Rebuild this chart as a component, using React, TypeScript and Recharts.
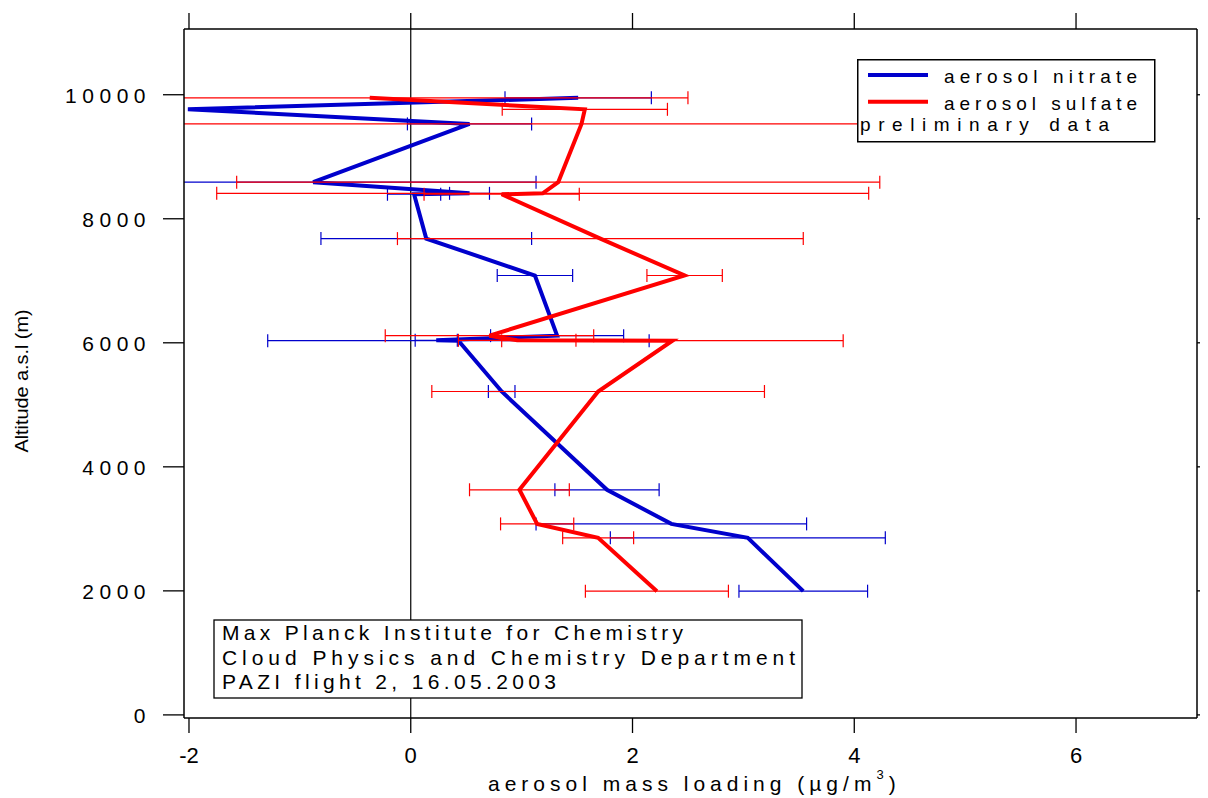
import React from "react";
import { LineChart, Line, XAxis, YAxis, ErrorBar, ReferenceLine, Legend } from "recharts";

// flight altitudes (m a.s.l.) shared by both species
const altitude = [9950, 9765, 9530, 8590, 8410, 8395, 7680, 7085, 6115, 6040, 6035, 5215, 3630, 3080, 2855, 1995];
const nitrate = [1.51, -2.01, 0.53, -0.88, 0.53, 0.03, 0.14, 1.12, 1.32, 0.23, 0.43, 0.82, 1.77, 2.35, 3.04, 3.54];
const nitrateErr = [0.66, null, 0.56, 2.01, 0.18, 0.24, 0.95, 0.34, 0.6, 0.19, 1.72, 0.12, 0.47, 1.22, 1.24, 0.58];
const sulfate = [-0.37, 1.57, 1.54, 1.33, 1.19, 0.82, 1.71, 2.47, 0.71, 0.96, 2.36, 1.69, 0.98, 1.14, 1.69, 2.22];
const sulfateErr = [2.87, 0.745, 4.5, 2.9, 2.94, 0.7, 1.83, 0.34, 0.94, 0.53, 1.54, 1.5, 0.45, 0.33, 0.32, 0.645];

const xTicks = [-2, 0, 2, 4, 6];
const yTicks = [0, 2000, 4000, 6000, 8000, 10000];
const infoLines = [
  "Max Planck Institute for Chemistry",
  "Cloud Physics and Chemistry Department",
  "PAZI flight 2, 16.05.2003",
];
const infoWidths = [461, 573, 334];

const data = altitude.map((alt, i) => ({
  alt,
  nitrate: nitrate[i],
  nErr: nitrateErr[i],
  sulfate: sulfate[i],
  sErr: sulfateErr[i],
}));

const FONT = '"Liberation Sans", Arial, sans-serif';
const BLUE = "#0000cc";
const RED = "#ff0000";
const X_DOMAIN: [number, number] = [-2.045, 7.091];
const Y_DOMAIN: [number, number] = [-50, 11060];

// plot frame (svg coords)
const LEFT = 176;
const RIGHT = 1189;
const TOP = 21;
const BOTTOM = 710;

const YTick = ({ y, payload }: any) => (
  <g>
    <line x1={LEFT - 21} x2={LEFT} y1={y} y2={y} stroke="#000" strokeWidth={1.3} />
    <text x={143} y={y + 8} textAnchor="end" fontFamily={FONT} fontSize={21} letterSpacing={5.5} fill="#000">
      {payload.value}
    </text>
  </g>
);

const RightTick = ({ y }: any) => <line x1={RIGHT} x2={RIGHT + 11} y1={y} y2={y} stroke="#000" strokeWidth={1.3} />;

const XTick = ({ x, payload }: any) => (
  <g>
    <line x1={x} x2={x} y1={BOTTOM} y2={BOTTOM + 15} stroke="#000" strokeWidth={1.3} />
    <text x={x} y={755} textAnchor="middle" fontFamily={FONT} fontSize={22} fill="#000">
      {payload.value}
    </text>
  </g>
);

const TopTick = ({ x }: any) => <line x1={x} x2={x} y1={TOP - 16} y2={TOP} stroke="#000" strokeWidth={1.3} />;

const XTitle = () => (
  <text x={480} y={783} fontFamily={FONT} fontSize={21} letterSpacing={5} fill="#000">
    aerosol mass loading (µg/m
    <tspan fontSize={13} dy={-12}>3</tspan>
    <tspan dy={12}>)</tspan>
  </text>
);

const YTitle = () => (
  <text
    transform="translate(20,373) rotate(-90)"
    textAnchor="middle"
    fontFamily={FONT}
    fontSize={19}
    textLength={143}
    lengthAdjust="spacingAndGlyphs"
    fill="#000"
  >
    Altitude a.s.l (m)
  </text>
);

const LegendBox = ({ payload }: any) => (
  <svg width={300} height={85} style={{ display: "block" }}>
    <rect x={0.75} y={0.75} width={297} height={82} fill="#fff" stroke="#000" strokeWidth={1.5} />
    {(payload || []).map((p: any, i: number) => (
      <g key={p.value}>
        <line x1={11} x2={71} y1={16 + i * 26.7} y2={16 + i * 26.7} stroke={p.color} strokeWidth={4} />
        <text x={87} y={24 + i * 27} fontFamily={FONT} fontSize={19} textLength={193} lengthAdjust="spacing" fill="#000">
          {p.value}
        </text>
      </g>
    ))}
    <text x={3} y={72} fontFamily={FONT} fontSize={19} textLength={249} lengthAdjust="spacing" fill="#000">
      preliminary data
    </text>
  </svg>
);

export default function App() {
  return (
    <div style={{ position: "relative", width: 1200, height: 790 }}>
      <style>{`.recharts-errorBars, .recharts-errorBar { clip-path: url(#plot-clip); }`}</style>
      <svg width={0} height={0} style={{ position: "absolute" }}>
        <defs>
          <clipPath id="plot-clip" clipPathUnits="userSpaceOnUse">
            <rect x={LEFT} y={TOP} width={RIGHT - LEFT} height={BOTTOM - TOP} />
          </clipPath>
        </defs>
      </svg>
      <LineChart width={1200} height={790} data={data} layout="vertical" margin={{ top: 0, right: 0, bottom: 0, left: 0 }}>
        <XAxis
          xAxisId="b"
          type="number"
          orientation="bottom"
          domain={X_DOMAIN}
          allowDataOverflow
          ticks={xTicks}
          interval={0}
          height={80}
          tickLine={false}
          tick={<XTick />}
          axisLine={{ stroke: "#000", strokeWidth: 1.5 }}
          label={{ content: <XTitle /> }}
        />
        <XAxis
          xAxisId="t"
          type="number"
          orientation="top"
          domain={X_DOMAIN}
          allowDataOverflow
          ticks={xTicks}
          interval={0}
          height={21}
          tickLine={false}
          tick={<TopTick />}
          axisLine={{ stroke: "#000", strokeWidth: 1.5 }}
        />
        <YAxis
          yAxisId="l"
          dataKey="alt"
          type="number"
          orientation="left"
          reversed
          domain={Y_DOMAIN}
          allowDataOverflow
          ticks={yTicks}
          interval={0}
          width={176}
          tickLine={false}
          tick={<YTick />}
          axisLine={{ stroke: "#000", strokeWidth: 1.5 }}
          label={{ content: <YTitle /> }}
        />
        <YAxis
          yAxisId="r"
          dataKey="alt"
          type="number"
          orientation="right"
          reversed
          domain={Y_DOMAIN}
          allowDataOverflow
          ticks={yTicks}
          interval={0}
          width={11}
          tickLine={false}
          tick={<RightTick />}
          axisLine={{ stroke: "#000", strokeWidth: 1.5 }}
        />
        <ReferenceLine x={0} xAxisId="b" yAxisId="l" stroke="#000" strokeWidth={1.2} />
        <Line
          xAxisId="b"
          yAxisId="l"
          dataKey="nitrate"
          name="aerosol nitrate"
          stroke={BLUE}
          strokeWidth={4}
          dot={false}
          activeDot={false}
          isAnimationActive={false}
        >
          <ErrorBar dataKey="nErr" direction="x" stroke={BLUE} strokeWidth={1.2} width={6.5} isAnimationActive={false} />
        </Line>
        <Line
          xAxisId="b"
          yAxisId="l"
          dataKey="sulfate"
          name="aerosol sulfate"
          stroke={RED}
          strokeWidth={4}
          dot={false}
          activeDot={false}
          isAnimationActive={false}
        >
          <ErrorBar dataKey="sErr" direction="x" stroke={RED} strokeWidth={1.2} width={6.5} isAnimationActive={false} />
        </Line>
        <Legend
          layout="vertical"
          align="center"
          verticalAlign="middle"
          content={<LegendBox />}
          wrapperStyle={{ position: "absolute", left: 849, top: 51, width: 300, height: 85 }}
        />
      </LineChart>
      <svg width={1200} height={790} style={{ position: "absolute", left: 0, top: 0, pointerEvents: "none" }}>
        <rect x={206} y={612} width={588} height={78} fill="#fff" stroke="#000" strokeWidth={1.3} />
        {infoLines.map((t, i) => (
          <text
            key={t}
            x={214}
            y={632 + i * 24.5}
            fontFamily={FONT}
            fontSize={21}
            textLength={infoWidths[i]}
            lengthAdjust="spacing"
            fill="#000"
          >
            {t}
          </text>
        ))}
      </svg>
    </div>
  );
}
